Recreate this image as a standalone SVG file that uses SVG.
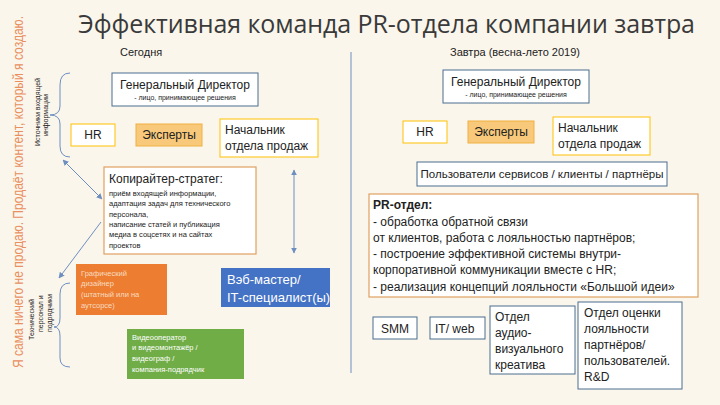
<svg xmlns="http://www.w3.org/2000/svg" width="720" height="405" viewBox="0 0 720 405">
<style>
text{font-family:"Liberation Sans","Noto Sans",sans-serif;fill:#222}
.bx{fill:#fff;stroke:#4a6c8f;stroke-width:1}
.yb{fill:#fff;stroke:#ffc000;stroke-width:1}
.ob{fill:#fff;stroke:#e0a060;stroke-width:1.2}
.ln{stroke:#6d8fc0;stroke-width:1;fill:none}
.s12{font-size:12px}.s7{font-size:7.5px}
</style>
<defs><marker id="a" viewBox="0 0 10 10" refX="9" refY="5" markerWidth="6" markerHeight="6" orient="auto-start-reverse"><path d="M0,0L10,5L0,10z" fill="#6d8fc0"/></marker></defs>
<rect width="720" height="405" fill="#fbf6ec"/>
<text x="78" y="33" textLength="617" style="font-size:25px;fill:#3a3a3a;font-family:'Open Sans',sans-serif">Эффективная команда PR-отдела компании завтра</text>
<text x="120" y="56" style="font-size:11px">Сегодня</text>
<text x="450" y="56" style="font-size:11px">Завтра (весна-лето 2019)</text>
<text transform="translate(23,368) rotate(-90)" textLength="352" lengthAdjust="spacingAndGlyphs" style="font-size:14px;fill:#e89060">Я сама ничего не продаю. Продаёт контент, который я создаю.</text>
<text transform="translate(40,146) rotate(-90)" style="font-size:7px">Источники входящей</text>
<text transform="translate(48,136) rotate(-90)" style="font-size:7px">информации</text>
<text transform="translate(34,340) rotate(-90)" style="font-size:7px">Технический</text>
<text transform="translate(43,332) rotate(-90)" style="font-size:7px">персонал и</text>
<text transform="translate(52,332) rotate(-90)" style="font-size:7px">подрядчики</text>
<g id="connectors">
<line class="ln" x1="351" y1="52" x2="351" y2="373"/>
<path class="ln" d="M70,73 Q60,73 60,85 L60,106 Q60,115 50,115 Q60,115 60,124 L60,146 Q60,157 70,157"/>
<path class="ln" d="M70,283 Q60,283 60,294 L60,318 Q60,327 54,327 Q60,327 60,336 L60,358 Q60,367 70,367"/>
<line class="ln" x1="63" y1="160" x2="102" y2="199" marker-start="url(#a)" marker-end="url(#a)"/>
<line class="ln" x1="101" y1="222" x2="59" y2="278" marker-end="url(#a)"/>
<line class="ln" x1="294" y1="170" x2="294" y2="253" marker-start="url(#a)" marker-end="url(#a)"/>
</g>
<g id="gd1"><rect class="bx" x="112" y="73" width="146" height="33"/><text x="185" y="89" text-anchor="middle" class="s12">Генеральный Директор</text><text x="185" y="100" text-anchor="middle" style="font-size:7px">- лицо, принимающее решения</text></g>
<g id="hr1"><rect class="yb" x="71" y="124" width="44" height="22"/><text x="93" y="139" text-anchor="middle" class="s12">HR</text></g>
<g id="exp1"><rect x="136" y="124" width="66" height="22" fill="#f8c97a" stroke="#f0b040"/><text x="169" y="139" text-anchor="middle" class="s12">Эксперты</text></g>
<g id="sales1"><rect class="yb" x="220" y="119" width="98" height="38"/><text x="225" y="134" class="s12">Начальник</text><text x="225" y="150" class="s12">отдела продаж</text></g>
<g id="copy"><rect class="ob" x="104" y="167" width="152" height="87"/><text x="109" y="183" class="s12">Копирайтер-стратег:</text>
<text x="109" y="196" class="s7">приём входящей информации,</text><text x="109" y="206" class="s7">адаптация задач для технического</text><text x="109" y="217" class="s7">персонала,</text><text x="109" y="227" class="s7">написание статей и публикация</text><text x="109" y="237" class="s7">медиа в соцсетях и на сайтах</text><text x="109" y="248" class="s7">проектов</text></g>
<g id="designer"><rect x="76" y="264" width="91" height="51" fill="#ed7d31"/><text x="81" y="276" class="s7" style="fill:#f8dcc0">Графический</text><text x="81" y="286" class="s7" style="fill:#f8dcc0">дизайнер</text><text x="81" y="297" class="s7" style="fill:#f8dcc0">(штатный или на</text><text x="81" y="308" class="s7" style="fill:#f8dcc0">аутсорсе)</text></g>
<g id="web"><rect x="221" y="268" width="109" height="39" fill="#4472c4"/><text x="227" y="284" style="font-size:13px;fill:#fff">Вэб-мастер/</text><text x="227" y="302" style="font-size:13px;fill:#fff">IT-специалист(ы)</text></g>
<g id="video"><rect x="127" y="329" width="117" height="50" fill="#70ad47"/><text x="132" y="340" class="s7" style="fill:#fff">Видеооператор</text><text x="132" y="350" class="s7" style="fill:#fff">и видеомонтажёр /</text><text x="132" y="361" class="s7" style="fill:#fff">видеограф /</text><text x="132" y="372" class="s7" style="fill:#fff">компания-подрядчик</text></g>
<g id="gd2"><rect class="bx" x="443" y="70" width="146" height="33"/><text x="516" y="86" text-anchor="middle" class="s12">Генеральный Директор</text><text x="516" y="97" text-anchor="middle" style="font-size:7px">- лицо, принимающее решения</text></g>
<g id="hr2"><rect class="yb" x="403" y="121" width="44" height="22"/><text x="425" y="136" text-anchor="middle" class="s12">HR</text></g>
<g id="exp2"><rect x="468" y="121" width="66" height="22" fill="#f8c97a" stroke="#f0b040"/><text x="501" y="136" text-anchor="middle" class="s12">Эксперты</text></g>
<g id="sales2"><rect class="yb" x="553" y="117" width="97" height="38"/><text x="558" y="132" class="s12">Начальник</text><text x="558" y="148" class="s12">отдела продаж</text></g>
<g id="users"><rect class="bx" x="417" y="162" width="250" height="24"/><text x="542" y="178" text-anchor="middle" style="font-size:11.5px">Пользователи сервисов / клиенты / партнёры</text></g>
<g id="pr"><rect class="ob" x="369" y="194" width="329" height="103"/><text x="373" y="209" class="s12" style="font-weight:bold">PR-отдел:</text><text x="373" y="226" class="s12">- обработка обратной связи</text><text x="373" y="242" class="s12">от клиентов, работа с лояльностью партнёров;</text><text x="373" y="258" class="s12">- построение эффективной системы внутри-</text><text x="373" y="274" class="s12">корпоративной коммуникации вместе с HR;</text><text x="373" y="291" class="s12">- реализация концепций лояльности «Большой идеи»</text></g>
<g id="smm"><rect class="bx" x="373" y="317" width="44" height="22"/><text x="395" y="333" text-anchor="middle" class="s12">SMM</text></g>
<g id="itweb"><rect class="bx" x="430" y="317" width="55" height="22"/><text x="435" y="333" class="s12">IT/ web</text></g>
<g id="av"><rect class="bx" x="490" y="306" width="85" height="68"/><text x="495" y="321" class="s12">Отдел</text><text x="495" y="337" class="s12">аудио-</text><text x="495" y="353" class="s12">визуального</text><text x="495" y="369" class="s12">креатива</text></g>
<g id="rd"><rect class="bx" x="578" y="302" width="104" height="87"/><text x="584" y="317" class="s12">Отдел оценки</text><text x="584" y="333" class="s12">лояльности</text><text x="584" y="349" class="s12">партнёров/</text><text x="584" y="365" class="s12">пользователей.</text><text x="584" y="381" class="s12">R&amp;D</text></g>
</svg>
